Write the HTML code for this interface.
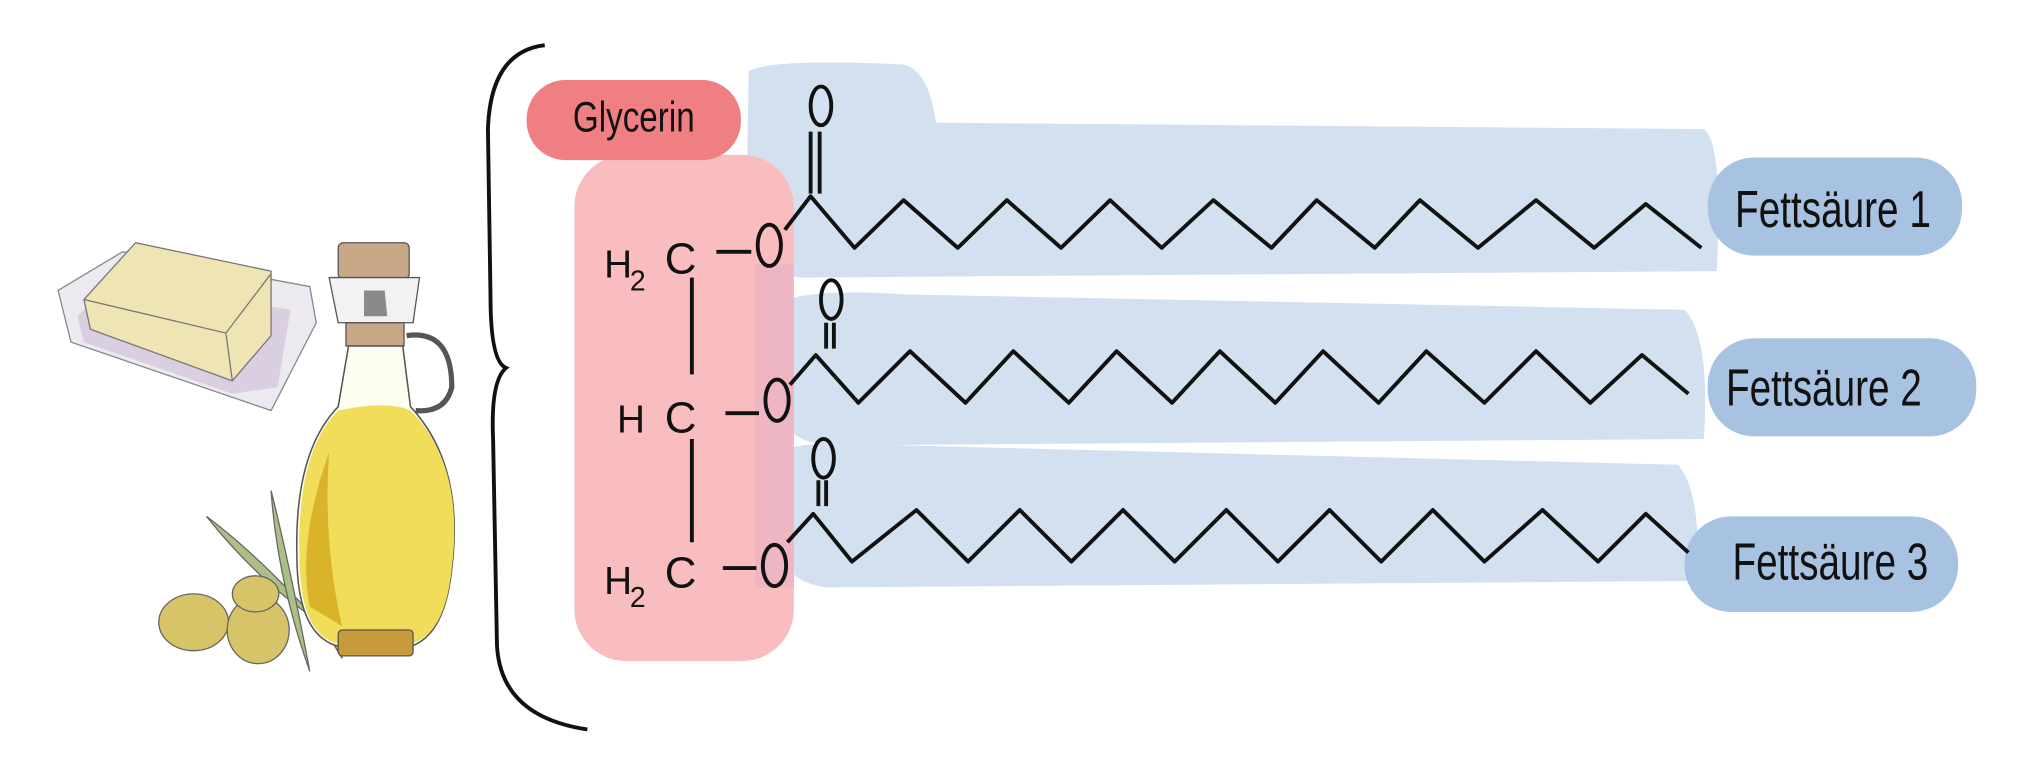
<!DOCTYPE html>
<html><head><meta charset="utf-8"><style>html,body{margin:0;padding:0;background:#fff;width:2024px;height:763px;overflow:hidden}svg{display:block}</style></head><body>
<svg width="2024" height="763" viewBox="0 0 1568 591" preserveAspectRatio="none" xmlns="http://www.w3.org/2000/svg">
<rect width="1568" height="591" fill="#fff"/>
<path d="M45,225 L95,195 L240,222 L245,250 L210,318 L55,265 Z" fill="#eceaf0" stroke="#888" stroke-width="1"/>
<path d="M60,245 L90,215 L225,240 L215,300 L180,305 L65,265 Z" fill="#d9cfe0"/>
<path d="M65,232 L105,188 L210,210 L210,260 L180,295 L70,255 Z" fill="#efe4b4" stroke="#777" stroke-width="1"/>
<path d="M65,232 L175,258 L210,212 M175,258 L180,295" fill="none" stroke="#777" stroke-width="1"/>
<path d="M160,400 Q200,430 245,480 Q200,450 160,400Z" fill="#aebf86" stroke="#666" stroke-width="1"/>
<path d="M210,380 Q225,440 240,520 Q215,450 210,380Z" fill="#aebf86" stroke="#666" stroke-width="1"/>
<path d="M230,420 Q255,460 265,510 Q240,470 230,420Z" fill="#9fb07a" stroke="#666" stroke-width="1"/>
<ellipse cx="150" cy="482" rx="27" ry="22" fill="#d8c468" stroke="#666"/>
<ellipse cx="200" cy="488" rx="24" ry="26" fill="#d8c468" stroke="#666"/>
<ellipse cx="198" cy="460" rx="18" ry="14" fill="#d8c468" stroke="#666"/>
<rect x="262" y="188" width="55" height="28" rx="4" fill="#c7a788" stroke="#555"/>
<path d="M255,215 L325,215 L320,250 L262,250Z" fill="#f2f2f2" stroke="#555"/>
<path d="M282,225 L298,225 L300,245 L282,245Z" fill="#8a8a8a"/>
<rect x="268" y="250" width="45" height="18" fill="#c7a788" stroke="#555"/>
<path d="M315,260 Q350,255 350,300 Q345,320 322,318" fill="none" stroke="#555" stroke-width="4"/>
<path d="M270,268 L312,268 L318,315 Q360,360 350,440 Q345,490 320,500 L260,500 Q230,490 230,430 Q228,350 262,315 Z" fill="#fdfdf0" stroke="#555" stroke-width="1.2"/>
<path d="M262,318 Q300,310 318,318 Q360,360 350,440 Q345,490 320,498 L260,498 Q232,490 232,430 Q230,350 262,318Z" fill="#f1dd5a"/>
<path d="M255,350 Q250,420 265,485 L240,470 Q230,420 255,350Z" fill="#d9b32a"/>
<rect x="262" y="488" width="58" height="20" rx="3" fill="#c79a3c" stroke="#555"/>
<path d="M422,35 Q380,40 378,100 L380,230 Q380,280 392,285 Q380,295 382,340 L385,500 Q388,555 455,565" fill="none" stroke="#111" stroke-width="3"/>
<g fill="#d3e0f0">
<path d="M580,55 Q600,45 700,50 Q720,55 725,95 L1320,100 Q1335,110 1330,210 L620,215 Q585,210 578,180Z"/>
<path d="M598,240 Q610,222 700,228 L1305,240 Q1325,260 1320,340 L640,345 Q600,340 598,300Z"/>
<path d="M605,350 Q620,340 700,345 L1300,360 Q1318,380 1315,450 L640,455 Q605,450 605,420Z"/>
</g>
<rect x="445" y="120" width="170" height="392" rx="40" fill="#f9bcbf"/>
<rect x="585" y="205" width="30" height="250" fill="#e6b3c5" opacity="0.6"/>
<rect x="408" y="62" width="166" height="62" rx="30" fill="#f07f84"/>
<g fill="#a8c3e2">
<rect x="1323" y="122" width="197" height="76" rx="36"/>
<rect x="1323" y="262" width="208" height="76" rx="36"/>
<rect x="1305" y="400" width="212" height="74" rx="36"/>
</g>
<g font-family="Liberation Sans, sans-serif" fill="#111">
<text x="491" y="102" font-size="33" text-anchor="middle" transform="translate(491 0) scale(0.78 1) translate(-491 0)">Glycerin</text>
<text x="1420" y="176" font-size="40" text-anchor="middle" transform="translate(1420 0) scale(0.75 1) translate(-1420 0)">Fettsäure 1</text>
<text x="1413" y="314" font-size="40" text-anchor="middle" transform="translate(1413 0) scale(0.75 1) translate(-1413 0)">Fettsäure 2</text>
<text x="1418" y="449" font-size="40" text-anchor="middle" transform="translate(1418 0) scale(0.75 1) translate(-1418 0)">Fettsäure 3</text>
<text x="468" y="215" font-size="30">H</text><text x="488" y="225" font-size="22">2</text><text x="515" y="212" font-size="34">C</text>
<text x="478" y="335" font-size="30">H</text><text x="515" y="335" font-size="34">C</text>
<text x="468" y="460" font-size="30">H</text><text x="488" y="470" font-size="22">2</text><text x="515" y="455" font-size="34">C</text>
</g>
<g fill="none" stroke="#111" stroke-width="3" stroke-linejoin="round">
<ellipse cx="596" cy="190" rx="9" ry="16"/><ellipse cx="602" cy="310" rx="9" ry="16"/><ellipse cx="600" cy="438" rx="9" ry="16"/>
<ellipse cx="636" cy="82" rx="8" ry="15"/><ellipse cx="644" cy="232" rx="8" ry="15"/><ellipse cx="638" cy="355" rx="8" ry="15"/>
<path d="M555,195 L582,195 M562,320 L588,320 M560,440 L586,440"/>
<path d="M536,215 L536,290 M536,340 L536,420"/>
<path d="M628,102 L628,150 M635,102 L635,150"/>
<path d="M640,250 L640,270 M646,250 L646,270"/>
<path d="M634,372 L634,392 M640,372 L640,392"/>
<path d="M608,178 L628,152 L662,192 L700,155 L742,192 L780,155 L822,192 L860,155 L900,192 L940,155 L985,192 L1020,155 L1065,192 L1100,155 L1145,192 L1190,155 L1235,192 L1275,158 L1318,192"/>
<path d="M612,298 L632,275 L665,312 L705,272 L748,312 L785,272 L828,312 L865,272 L908,312 L945,272 L988,312 L1025,272 L1068,312 L1105,272 L1150,312 L1190,272 L1232,312 L1272,275 L1308,305"/>
<path d="M610,420 L630,398 L660,435 L710,395 L750,435 L790,395 L830,435 L870,395 L910,435 L950,395 L990,435 L1030,395 L1070,435 L1110,395 L1150,435 L1195,395 L1238,435 L1275,398 L1308,428"/>
</g>
</svg>
</body></html>
